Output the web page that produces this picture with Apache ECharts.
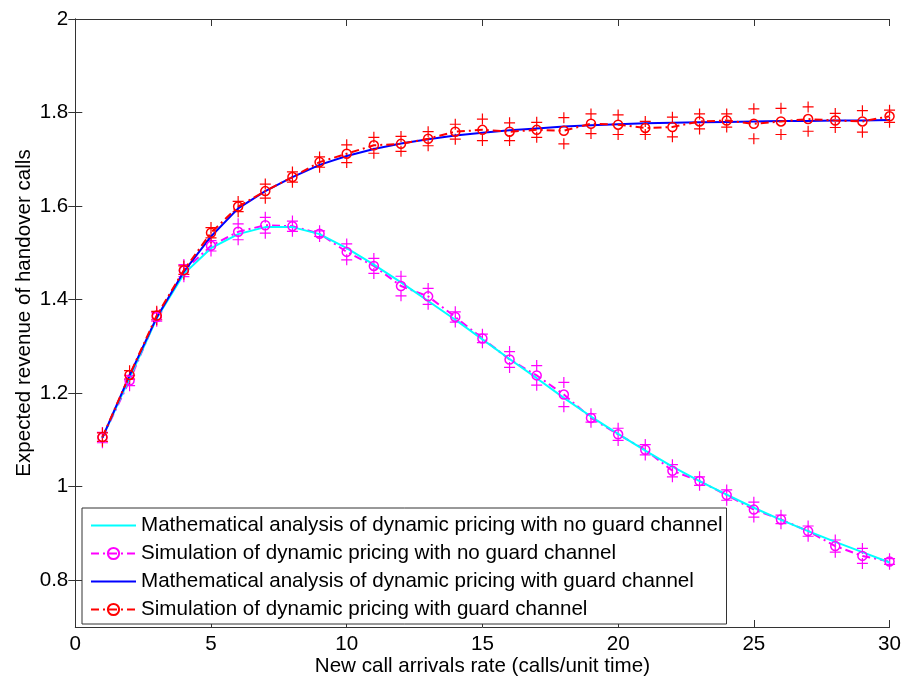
<!DOCTYPE html>
<html>
<head>
<meta charset="utf-8">
<script src="https://cdn.jsdelivr.net/npm/echarts@6/dist/echarts.min.js"></script>
<style>
  html, body { margin: 0; padding: 0; background: #fff; }
  #chart { width: 904px; height: 682px; }
</style>
</head>
<body>
<div id="chart"></div>
<script>
// New call arrival rate (calls/unit time)
const arrivalRates = [1, 2, 3, 4, 5, 6, 7, 8, 9, 10, 11, 12, 13, 14, 15,
  16, 17, 18, 19, 20, 21, 22, 23, 24, 25, 26, 27, 28, 29, 30];

// Expected revenue of handover calls, no guard channel
const noGuardAnalysis = [1.105, 1.232, 1.360, 1.455, 1.510, 1.540, 1.555, 1.555, 1.540, 1.510,
  1.475, 1.437, 1.397, 1.357, 1.315, 1.273, 1.232, 1.190, 1.150, 1.113,
  1.077, 1.043, 1.012, 0.983, 0.955, 0.929, 0.905, 0.882, 0.860, 0.838];
const noGuardSim = [1.105, 1.227, 1.363, 1.462, 1.515, 1.545, 1.559, 1.557, 1.541, 1.502,
  1.472, 1.429, 1.407, 1.363, 1.317, 1.272, 1.238, 1.197, 1.147, 1.112,
  1.079, 1.034, 1.012, 0.982, 0.951, 0.930, 0.905, 0.873, 0.852, 0.840];
// half width of the simulation confidence interval
const noGuardCI = [0.011, 0.011, 0.009, 0.013, 0.011, 0.017, 0.017, 0.011, 0.006, 0.017,
  0.016, 0.021, 0.017, 0.011, 0.009, 0.017, 0.021, 0.026, 0.009, 0.013,
  0.011, 0.013, 0.009, 0.011, 0.016, 0.009, 0.011, 0.013, 0.016, 0.006];

// Expected revenue of handover calls, with guard channel
const guardAnalysis = [1.105, 1.238, 1.362, 1.460, 1.535, 1.595, 1.632, 1.662, 1.688, 1.707,
  1.722, 1.734, 1.743, 1.751, 1.757, 1.762, 1.766, 1.770, 1.773, 1.775,
  1.777, 1.778, 1.779, 1.780, 1.781, 1.782, 1.782, 1.783, 1.783, 1.784];
const guardSim = [1.106, 1.239, 1.366, 1.463, 1.543, 1.599, 1.632, 1.662, 1.694, 1.712,
  1.730, 1.733, 1.744, 1.759, 1.763, 1.759, 1.763, 1.761, 1.776, 1.774,
  1.767, 1.769, 1.781, 1.783, 1.776, 1.781, 1.786, 1.783, 1.781, 1.792];
const guardCI = [0.009, 0.009, 0.009, 0.009, 0.011, 0.011, 0.015, 0.011, 0.011, 0.019,
  0.017, 0.016, 0.015, 0.016, 0.023, 0.019, 0.016, 0.028, 0.021, 0.021,
  0.014, 0.021, 0.016, 0.014, 0.032, 0.028, 0.026, 0.015, 0.023, 0.013];

const xTicks = [0, 5, 10, 15, 20, 25, 30];
const yTicks = [0.8, 1, 1.2, 1.4, 1.6, 1.8, 2];

const seriesNames = [
  'Mathematical analysis of dynamic pricing with no guard channel',
  'Simulation of dynamic pricing with no guard channel',
  'Mathematical analysis of dynamic pricing with guard channel',
  'Simulation of dynamic pricing with guard channel'
];

const FONT = '"Liberation Sans", Arial, Helvetica, sans-serif';
const FS = 20.6;
const AXIS_COLOR = '#333';
const PLUS = 'path://M5 0V10M0 5H10';

const pairs = (ys) => arrivalRates.map((x, i) => [x, ys[i]]);
const bounds = (ys, ci) => arrivalRates.flatMap((x, i) => [[x, ys[i] + ci[i]], [x, ys[i] - ci[i]]]);

function lineSeries(name, ys, color, dashed) {
  const s = {
    name, type: 'line', data: pairs(ys),
    lineStyle: { color, width: 2 },
    itemStyle: { color },
    emphasis: { disabled: true },
    animation: false
  };
  if (dashed) {
    s.lineStyle.type = [8, 4, 2, 4];
    s.symbol = 'circle';
    s.symbolSize = 9;
    s.itemStyle = { color: 'rgba(0,0,0,0)', borderColor: color, borderWidth: 1.5 };
  } else {
    s.symbol = 'none';
  }
  return s;
}

function ciSeries(ys, ci, color) {
  return {
    type: 'scatter', data: bounds(ys, ci),
    symbol: PLUS, symbolSize: 11,
    itemStyle: { color: 'rgba(0,0,0,0)', borderColor: color, borderWidth: 1.2, opacity: 1 },
    emphasis: { disabled: true },
    silent: true, animation: false
  };
}

const baseX = {
  type: 'value', min: 0, max: 30, interval: 5,
  axisLine: { lineStyle: { color: AXIS_COLOR, width: 1 } },
  axisTick: { inside: true, length: 7, lineStyle: { color: AXIS_COLOR } },
  splitLine: { show: false }
};
const baseY = {
  type: 'value', min: 0.7, max: 2, interval: 0.1,
  axisLine: { show: true, lineStyle: { color: AXIS_COLOR, width: 1 } },
  axisTick: { show: true, inside: true, length: 7, customValues: yTicks, lineStyle: { color: AXIS_COLOR } },
  splitLine: { show: false }
};

// solid analysis curves show only a line in the legend
const hiddenMarker = { color: 'rgba(0,0,0,0)', borderWidth: 0, opacity: 0 };

const chart = echarts.init(document.getElementById('chart'), null, { renderer: 'canvas' });
chart.setOption({
  backgroundColor: '#fff',
  textStyle: { fontFamily: FONT },
  grid: { left: 75.3, right: 12.7, top: 19, bottom: 52.7 },
  xAxis: [
    Object.assign({}, baseX, {
      position: 'bottom',
      axisLabel: { fontSize: FS, color: '#000', fontFamily: FONT, margin: 7, customValues: xTicks },
      name: 'New call arrivals rate (calls/unit time)',
      nameLocation: 'middle', nameGap: 29, nameMoveOverlap: false,
      nameTextStyle: { fontSize: FS, color: '#000', fontFamily: FONT }
    }),
    Object.assign({}, baseX, { position: 'top', axisLabel: { show: false } })
  ],
  yAxis: [
    Object.assign({}, baseY, {
      position: 'left',
      axisLabel: { fontSize: FS, color: '#000', fontFamily: FONT, margin: 7, customValues: yTicks },
      name: 'Expected revenue of handover calls',
      nameLocation: 'middle', nameGap: 40, nameMoveOverlap: false,
      nameTextStyle: { fontSize: FS, color: '#000', fontFamily: FONT, padding: [0, 0, 0, 20] }
    }),
    Object.assign({}, baseY, { position: 'right', axisLabel: { show: false } })
  ],
  legend: {
    data: [
      { name: seriesNames[0], itemStyle: hiddenMarker },
      { name: seriesNames[1] },
      { name: seriesNames[2], itemStyle: hiddenMarker },
      { name: seriesNames[3] }
    ],
    orient: 'vertical',
    left: 82, top: 508,
    padding: [7, 4, 4, 8],
    itemWidth: 45, itemHeight: 14, itemGap: 7,
    backgroundColor: '#fff',
    borderColor: AXIS_COLOR, borderWidth: 1,
    selectedMode: false,
    textStyle: { fontSize: FS, color: '#000', fontFamily: FONT, lineHeight: 20 }
  },
  series: [
    ciSeries(noGuardSim, noGuardCI, '#ff00ff'),
    lineSeries(seriesNames[1], noGuardSim, '#ff00ff', true),
    lineSeries(seriesNames[0], noGuardAnalysis, '#00ffff', false),
    lineSeries(seriesNames[2], guardAnalysis, '#0000ff', false),
    ciSeries(guardSim, guardCI, '#ff0000'),
    lineSeries(seriesNames[3], guardSim, '#ff0000', true)
  ]
});
</script>
</body>
</html>
